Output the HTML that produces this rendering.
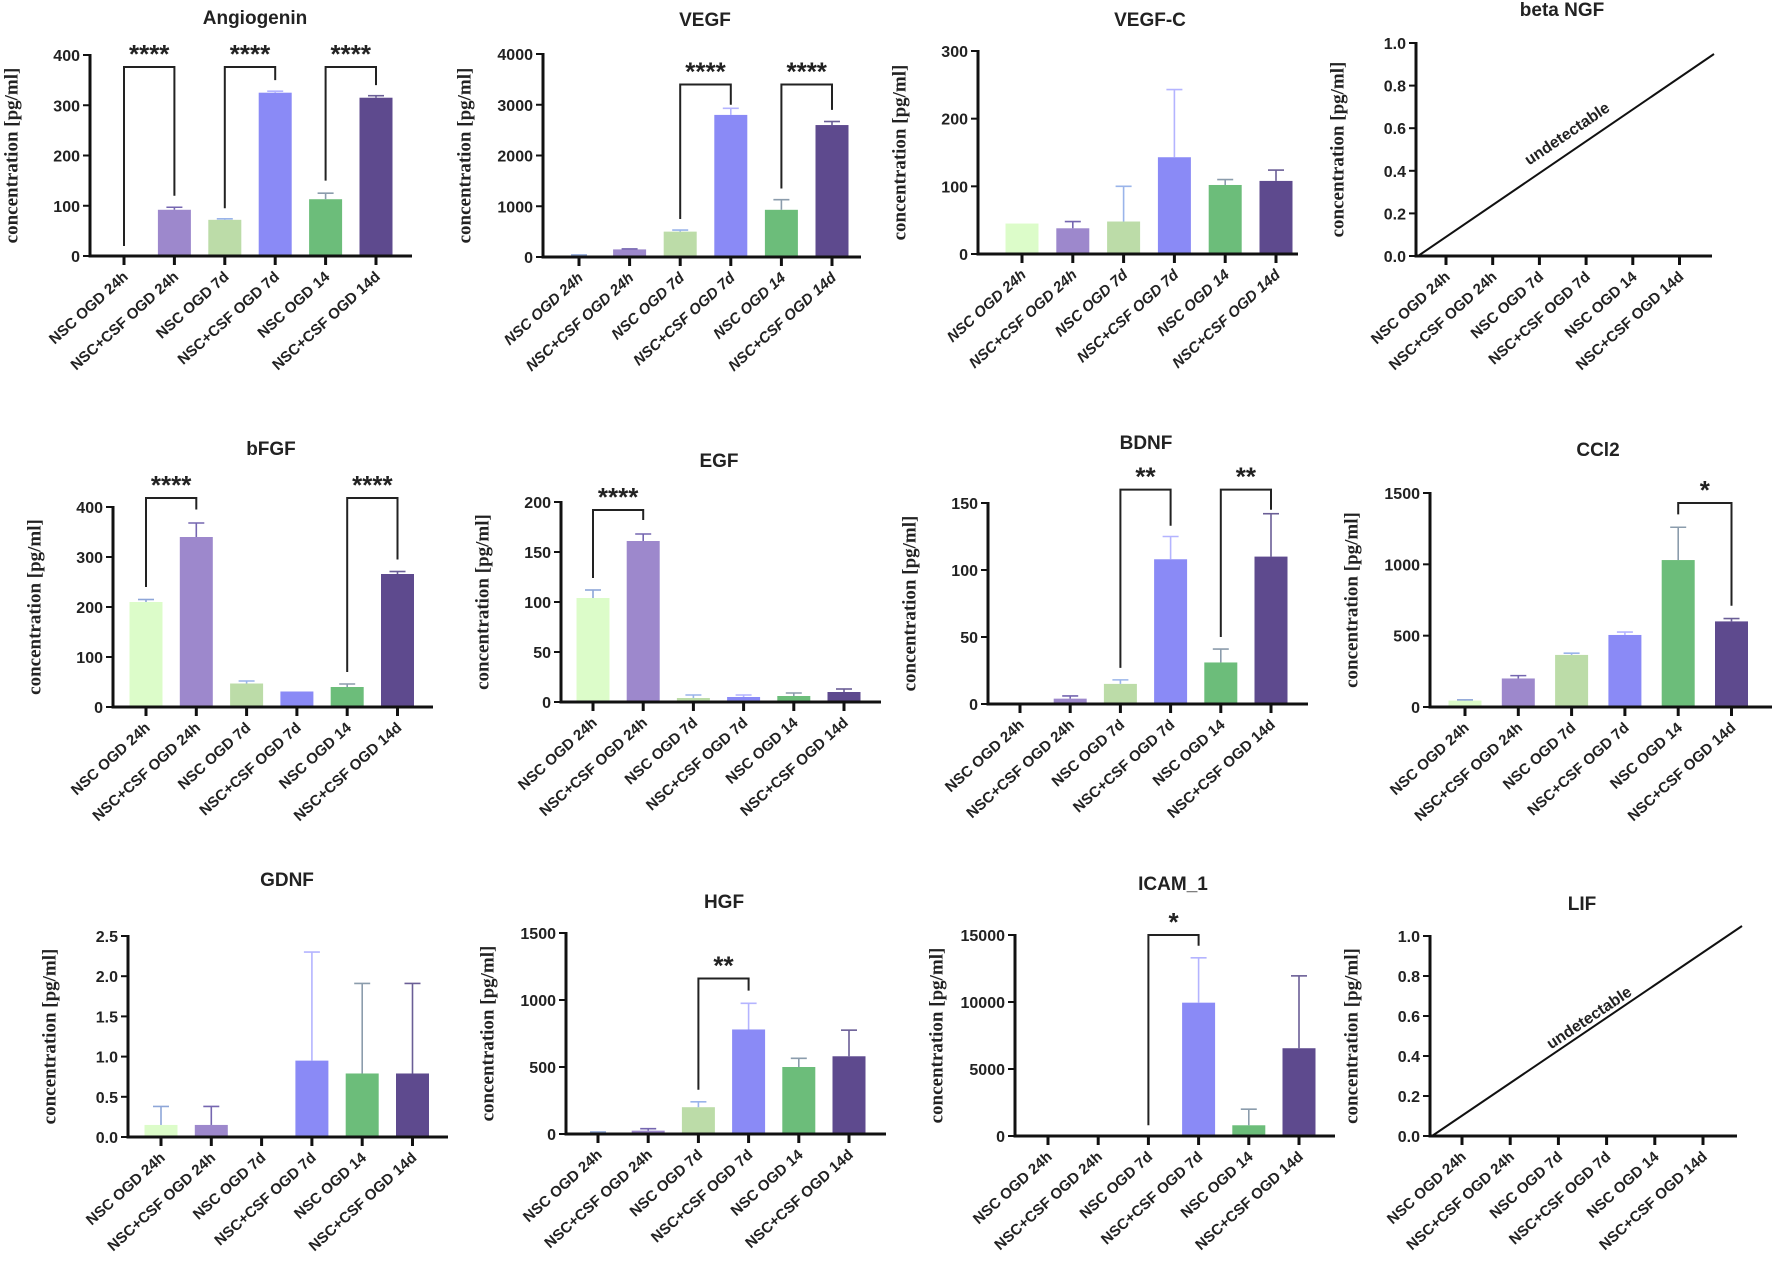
<!DOCTYPE html>
<html><head><meta charset="utf-8">
<style>
html,body{margin:0;padding:0;background:#fff;}
svg{display:block;}
text{font-family:"Liberation Sans",Arial,sans-serif;}
.tick{font-size:16px;font-weight:bold;fill:#222;}
.xl{font-size:15px;font-weight:bold;fill:#222;}
.ttl{font-size:19px;font-weight:bold;fill:#222;}
.yt{font-family:"Liberation Serif",serif;font-size:19px;font-weight:bold;fill:#222;}
.star{font-size:26px;font-weight:bold;fill:#222;}
</style></head>
<body>
<svg id="fig" width="1772" height="1262" viewBox="0 0 1772 1262" xmlns="http://www.w3.org/2000/svg"></svg>
<script>
const categories = ["NSC OGD 24h","NSC+CSF OGD 24h","NSC OGD 7d","NSC+CSF OGD 7d","NSC OGD 14","NSC+CSF OGD 14d"];

const angiogeninValues = [0, 92, 72, 325, 113, 315];
const angiogeninErrors = [0, 5, 2, 3, 12, 4];
const angiogeninTicks = [0, 100, 200, 300, 400];
const angiogeninSig = [[0,1,376,20,120,"****"],[2,3,376,95,350,"****"],[4,5,376,150,340,"****"]];

const vegfValues = [30, 150, 500, 2800, 930, 2600];
const vegfErrors = [10, 10, 30, 130, 200, 70];
const vegfTicks = [0, 1000, 2000, 3000, 4000];
const vegfSig = [[2,3,3400,750,3000,"****"],[4,5,3400,1350,2900,"****"]];

const vegfcValues = [45, 38, 48, 143, 102, 108];
const vegfcErrors = [0, 10, 52, 100, 8, 16];
const vegfcTicks = [0, 100, 200, 300];

const ngfTicks = [0.0, 0.2, 0.4, 0.6, 0.8, 1.0];

const bfgfValues = [210, 340, 47, 31, 40, 266];
const bfgfErrors = [5, 28, 5, 0, 6, 5];
const bfgfTicks = [0, 100, 200, 300, 400];
const bfgfSig = [[0,1,418,240,395,"****"],[4,5,418,70,295,"****"]];

const egfValues = [104, 161, 4, 5, 6, 10];
const egfErrors = [8, 7, 3, 2, 3, 3];
const egfTicks = [0, 50, 100, 150, 200];
const egfSig = [[0,1,192,124,182,"****"]];

const bdnfValues = [0.5, 4, 15, 108, 31, 110];
const bdnfErrors = [0, 2, 3, 17, 10, 32];
const bdnfTicks = [0, 50, 100, 150];
const bdnfSig = [[2,3,160,27,133,"**"],[4,5,160,50,145,"**"]];

const ccl2Values = [45, 200, 365, 505, 1030, 600];
const ccl2Errors = [5, 20, 12, 20, 230, 20];
const ccl2Ticks = [0, 500, 1000, 1500];
const ccl2Sig = [[4,5,1430,1350,710,"*"]];

const gdnfValues = [0.15, 0.15, 0, 0.95, 0.79, 0.79];
const gdnfErrors = [0.23, 0.23, 0, 1.35, 1.12, 1.12];
const gdnfTicks = [0.0, 0.5, 1.0, 1.5, 2.0, 2.5];

const hgfValues = [10, 25, 200, 780, 500, 580];
const hgfErrors = [5, 15, 40, 195, 65, 195];
const hgfTicks = [0, 500, 1000, 1500];
const hgfSig = [[2,3,1160,330,1070,"**"]];

const icamValues = [0, 0, 0, 9950, 800, 6550];
const icamErrors = [0, 0, 0, 3350, 1200, 5400];
const icamTicks = [0, 5000, 10000, 15000];
const icamSig = [[2,3,15000,800,14200,"*"]];

const lifTicks = [0.0, 0.2, 0.4, 0.6, 0.8, 1.0];

const fills = ["#dcfcc9","#9d88cc","#bcdca8","#8a8af6","#6cbd7a","#5e4a8e"];
const errCols = ["#8ea6d8","#7566b0","#9ab4ea","#b4b4ff","#8b9cac","#6a5e96"];

const NS = "http://www.w3.org/2000/svg";
const svg = document.getElementById("fig");
function mk(tag, attrs, parent, txt){
  const e = document.createElementNS(NS, tag);
  for (const k in attrs) e.setAttribute(k, attrs[k]);
  if (txt !== undefined) e.textContent = txt;
  (parent||svg).appendChild(e);
  return e;
}
function fmt(v, dec){ return dec ? v.toFixed(dec) : String(v); }

function panel(o){
  const g = mk("g", {});
  
  
  const X=o.X, T=o.T, B=o.B, max=o.ticks[o.ticks.length-1];
  const y = v => B - (v/max)*(B-T);
  const xc = i => X + o.off + o.step*i;
  const t = mk("text", {x:o.tx, y:o.ty, "text-anchor":"middle", class:"ttl"}, g, o.title);
  
  
  const yt = mk("text", {x:X-77, y:(T+B)/2, "text-anchor":"middle", "dominant-baseline":"middle", class:"yt", transform:`rotate(-90 ${X-77} ${(T+B)/2})`}, g, "concentration [pg/ml]");
  
  
  if (o.values){
    o.values.forEach((v,i)=>{
      const cx = xc(i), w = 33;
      if (v > 0){
        const r = mk("rect", {x:cx-w/2, y:y(v), width:w, height:B-y(v), fill:fills[i]}, g);
        
        
      }
      const e = o.errors[i];
      if (e > 0){
        const eg = mk("g", {stroke:errCols[i], "stroke-width":1.6, fill:"none"}, g);
        
        
        mk("line", {x1:cx, x2:cx, y1:y(v), y2:y(v+e)}, eg);
        mk("line", {x1:cx-8, x2:cx+8, y1:y(v+e), y2:y(v+e)}, eg);
      }
    });
  }
  (o.sig||[]).forEach(s=>{
    const [a,b,top,le,re,lab] = s;
    const sg = mk("g", {}, g);
    
    
    mk("polyline", {points:`${xc(a)},${y(le)} ${xc(a)},${y(top)} ${xc(b)},${y(top)} ${xc(b)},${y(re)}`, fill:"none", stroke:"#222", "stroke-width":2}, sg);
    mk("text", {x:(xc(a)+xc(b))/2, y:y(top)-4, "text-anchor":"middle", class:"star"}, sg, lab);
  });
  if (o.diag){
    const d = o.diag;
    const dl = mk("line", {x1:X+2, y1:B, x2:d[0], y2:d[1], stroke:"#111", "stroke-width":2}, g);
    
    
    const ang = Math.atan2(d[1]-B, d[0]-X)*180/Math.PI;
    const dt = mk("text", {x:d[2], y:d[3], "text-anchor":"middle", class:"xl", style:"font-size:16px;font-weight:bold", transform:`rotate(${ang} ${d[2]} ${d[3]})`}, g, "undetectable");
    
    
  }
  const ax = mk("g", {stroke:"#111", "stroke-width":3, fill:"none"}, g);
  
  
  mk("line", {x1:X, y1:T-1, x2:X, y2:B+1.5}, ax);
  mk("line", {x1:X-1.5, y1:B, x2:X+o.len, y2:B}, ax);
  o.ticks.forEach(tv=>{
    mk("line", {x1:X-7, y1:y(tv), x2:X, y2:y(tv), "stroke-width":2}, ax);
    const tl = mk("text", {x:X-10, y:y(tv)+6, "text-anchor":"end", class:"tick"}, g, fmt(tv, o.dec));
    
    
  });
  categories.forEach((c,i)=>{
    const cx = xc(i);
    mk("line", {x1:cx, y1:B, x2:cx, y2:B+9, "stroke-width":3}, ax);
    const lx = cx+5, ly = B+22;
    const xl = mk("text", {x:lx, y:ly, "text-anchor":"end", class:"xl", transform:`rotate(-42 ${lx} ${ly})`, style:o.italic?"font-style:italic":""}, g, c);
    
    
  });
}

panel({id:"angiogenin", title:"Angiogenin", X:90, T:55, B:256, off:34, step:50.4, len:322, ticks:angiogeninTicks, values:angiogeninValues, errors:angiogeninErrors, sig:angiogeninSig, tx:255, ty:24});
panel({id:"vegf", title:"VEGF", X:543, T:54, B:257, off:36, step:50.6, len:318, ticks:vegfTicks, values:vegfValues, errors:vegfErrors, sig:vegfSig, tx:705, ty:26, italic:true});
panel({id:"vegf-c", title:"VEGF-C", X:978, T:51, B:254, off:44, step:50.8, len:320, ticks:vegfcTicks, values:vegfcValues, errors:vegfcErrors, tx:1150, ty:26, italic:true});
panel({id:"beta-ngf", title:"beta NGF", X:1416, T:43, B:256, off:30, step:46.7, len:296, ticks:ngfTicks, dec:1, diag:[1714,54,1570,138], tx:1562, ty:16});

panel({id:"bfgf", title:"bFGF", X:113, T:507, B:707, off:33, step:50.3, len:320, ticks:bfgfTicks, values:bfgfValues, errors:bfgfErrors, sig:bfgfSig, tx:271, ty:455});
panel({id:"egf", title:"EGF", X:561, T:502, B:702, off:32, step:50.2, len:320, ticks:egfTicks, values:egfValues, errors:egfErrors, sig:egfSig, tx:719, ty:467});
panel({id:"bdnf", title:"BDNF", X:988, T:503, B:704, off:32, step:50.2, len:320, ticks:bdnfTicks, values:bdnfValues, errors:bdnfErrors, sig:bdnfSig, tx:1146, ty:449});
panel({id:"ccl2", title:"CCl2", X:1430, T:493, B:707, off:35, step:53.3, len:342, ticks:ccl2Ticks, values:ccl2Values, errors:ccl2Errors, sig:ccl2Sig, tx:1598, ty:456});

panel({id:"gdnf", title:"GDNF", X:128, T:936, B:1137, off:33, step:50.3, len:320, ticks:gdnfTicks, values:gdnfValues, errors:gdnfErrors, dec:1, tx:287, ty:886});
panel({id:"hgf", title:"HGF", X:566, T:933, B:1134, off:32, step:50.2, len:320, ticks:hgfTicks, values:hgfValues, errors:hgfErrors, sig:hgfSig, tx:724, ty:908});
panel({id:"icam-1", title:"ICAM_1", X:1015, T:935, B:1136, off:33, step:50.2, len:320, ticks:icamTicks, values:icamValues, errors:icamErrors, sig:icamSig, tx:1173, ty:890});
panel({id:"lif", title:"LIF", X:1430, T:936, B:1136, off:32, step:48.2, len:307, ticks:lifTicks, dec:1, diag:[1742,926,1592,1022], tx:1582, ty:910});
</script>
</body></html>
